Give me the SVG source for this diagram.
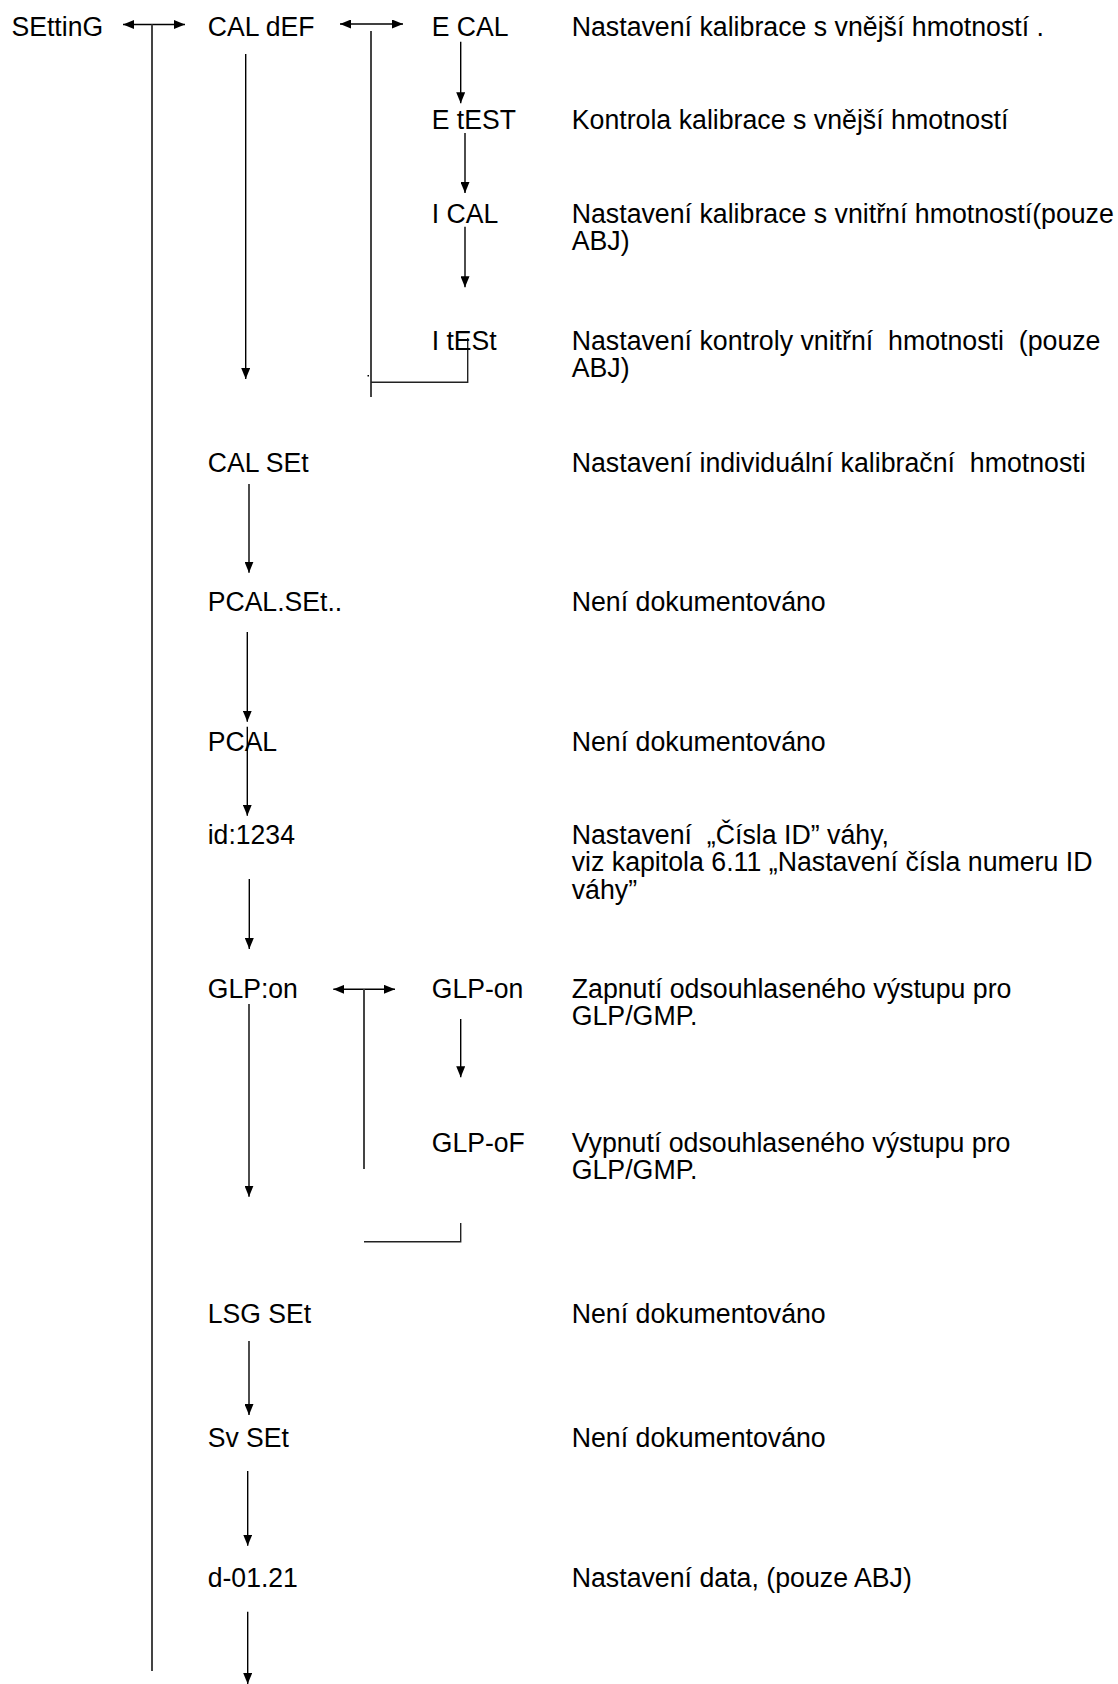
<svg xmlns="http://www.w3.org/2000/svg" width="1118" height="1684" viewBox="0 0 1118 1684">
<style>
  text { font-family: "Liberation Sans", Arial, sans-serif; font-size: 28px; fill: #000; white-space: pre; }
  .ar { stroke: #000; stroke-width: 1.4; fill: none; }
  .gl { stroke: #444; stroke-width: 2; fill: none; }
  .bk { stroke: #222; stroke-width: 1.4; fill: none; }
</style>
<defs>
  <marker id="ah" viewBox="0 0 11 9" refX="11" refY="4.5" markerWidth="11" markerHeight="9" markerUnits="userSpaceOnUse" orient="auto-start-reverse">
    <path d="M0,0 L11,4.5 L0,9 z" fill="#000"/>
  </marker>
</defs>
<rect width="1118" height="1684" fill="#fff"/>

<g id="connectors">
  <line class="ar" x1="123" y1="24.5" x2="185" y2="24.5" marker-start="url(#ah)" marker-end="url(#ah)"/>
  <line class="gl" x1="152" y1="24.5" x2="152" y2="1671"/>
  <line class="ar" x1="340" y1="24" x2="403" y2="24" marker-start="url(#ah)" marker-end="url(#ah)"/>
  <line class="gl" x1="371" y1="31" x2="371" y2="397"/>
  <polyline class="bk" points="467.7,338 467.7,382.3 371,382.3"/>
  <rect x="367.5" y="375" width="1.5" height="1.5" fill="#000"/>
  <line class="ar" x1="245.7" y1="54" x2="245.7" y2="379" marker-end="url(#ah)"/>
  <line class="ar" x1="460.7" y1="41.7" x2="460.7" y2="103.3" marker-end="url(#ah)"/>
  <line class="ar" x1="465" y1="133" x2="465" y2="193" marker-end="url(#ah)"/>
  <line class="ar" x1="465" y1="226.7" x2="465" y2="287.3" marker-end="url(#ah)"/>
  <line class="ar" x1="249" y1="484" x2="249" y2="572.7" marker-end="url(#ah)"/>
  <line class="ar" x1="247.3" y1="632" x2="247.3" y2="721.7" marker-end="url(#ah)"/>
  <line class="ar" x1="247.3" y1="726.7" x2="247.3" y2="815.7" marker-end="url(#ah)"/>
  <line class="ar" x1="249.3" y1="879" x2="249.3" y2="949" marker-end="url(#ah)"/>
  <line class="ar" x1="333.3" y1="989.3" x2="395" y2="989.3" marker-start="url(#ah)" marker-end="url(#ah)"/>
  <line class="gl" x1="364" y1="989.3" x2="364" y2="1169"/>
  <line class="ar" x1="249" y1="1004" x2="249" y2="1196.7" marker-end="url(#ah)"/>
  <line class="ar" x1="460.7" y1="1019" x2="460.7" y2="1077.3" marker-end="url(#ah)"/>
  <polyline class="bk" points="460.7,1223 460.7,1241.7 364,1241.7"/>
  <line class="ar" x1="249" y1="1341" x2="249" y2="1415" marker-end="url(#ah)"/>
  <line class="ar" x1="247.7" y1="1471" x2="247.7" y2="1545.7" marker-end="url(#ah)"/>
  <line class="ar" x1="247.7" y1="1611.7" x2="247.7" y2="1684" marker-end="url(#ah)"/>
</g>

<g id="n-setting"><text transform="translate(11.5,36) scale(0.95,1)">SEttinG</text></g>
<g id="n-caldef"><text transform="translate(207.7,35.5) scale(0.95,1)">CAL dEF</text></g>
<g id="n-ecal"><text transform="translate(431.7,36) scale(0.95,1)">E CAL</text></g>
<g id="n-etest"><text transform="translate(431.7,129.3) scale(0.95,1)">E tEST</text></g>
<g id="n-ical"><text transform="translate(431.7,223.3) scale(0.95,1)">I CAL</text></g>
<g id="n-itest"><text transform="translate(431.7,350) scale(0.95,1)">I tESt</text></g>
<g id="n-calset"><text transform="translate(207.7,471.7) scale(0.95,1)">CAL SEt</text></g>
<g id="n-pcalset"><text transform="translate(207.7,611) scale(0.95,1)">PCAL.SEt..</text></g>
<g id="n-pcal"><text transform="translate(207.7,750.7) scale(0.95,1)">PCAL</text></g>
<g id="n-id"><text transform="translate(207.7,844) scale(0.95,1)">id:1234</text></g>
<g id="n-glpon"><text transform="translate(207.7,998) scale(0.95,1)">GLP:on</text></g>
<g id="n-glp-on"><text transform="translate(431.7,998) scale(0.95,1)">GLP-on</text></g>
<g id="n-glp-of"><text transform="translate(431.7,1151.7) scale(0.95,1)">GLP-oF</text></g>
<g id="n-lsgset"><text transform="translate(207.7,1322.7) scale(0.95,1)">LSG SEt</text></g>
<g id="n-svset"><text transform="translate(207.7,1446.7) scale(0.95,1)">Sv SEt</text></g>
<g id="n-date"><text transform="translate(207.7,1586.7) scale(0.95,1)">d-01.21</text></g>

<g id="descriptions" transform="translate(571.7,0) scale(0.955,1)">
  <text x="0" y="36">Nastavení kalibrace s vnější hmotností .</text>
  <text x="0" y="129">Kontrola kalibrace s vnější hmotností</text>
  <text x="0" y="223.3">Nastavení kalibrace s vnitřní hmotností(pouze</text>
  <text x="0" y="250.5">ABJ)</text>
  <text x="0" y="350">Nastavení kontroly vnitřní  hmotnosti  (pouze</text>
  <text x="0" y="377.5">ABJ)</text>
  <text x="0" y="471.7">Nastavení individuální kalibrační  hmotnosti</text>
  <text x="0" y="611">Není dokumentováno</text>
  <text x="0" y="750.7">Není dokumentováno</text>
  <text x="0" y="844">Nastavení  „Čísla ID” váhy,</text>
  <text x="0" y="871.5">viz kapitola 6.11 „Nastavení čísla numeru ID</text>
  <text x="0" y="899">váhy”</text>
  <text x="0" y="998">Zapnutí odsouhlaseného výstupu pro</text>
  <text x="0" y="1025.5">GLP/GMP.</text>
  <text x="0" y="1151.7">Vypnutí odsouhlaseného výstupu pro</text>
  <text x="0" y="1179">GLP/GMP.</text>
  <text x="0" y="1322.7">Není dokumentováno</text>
  <text x="0" y="1446.7">Není dokumentováno</text>
  <text x="0" y="1586.7">Nastavení data, (pouze ABJ)</text>
</g>
</svg>
